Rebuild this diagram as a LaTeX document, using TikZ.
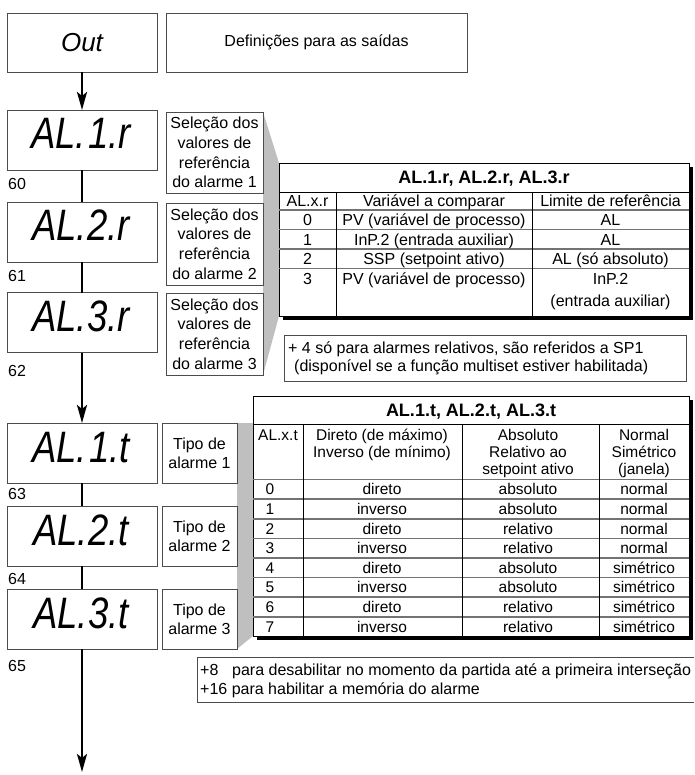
\documentclass[tikz,border=0pt]{standalone}
\usepackage{fontspec}
\setmainfont{Liberation Sans}
\usetikzlibrary{arrows.meta}
\tikzset{
  box/.style={draw=black!70, line width=0.9pt, fill=white, inner sep=0pt, outer sep=0pt},
  disp/.style={box, minimum width=150pt, minimum height=60pt},
  seg/.style={font=\fontsize{44}{44}\selectfont\itshape, anchor=base, inner sep=0pt},
  side/.style={box, align=center, font=\fontsize{16}{19.7}\selectfont},
  tipo/.style={box, align=center, font=\fontsize{16}{19}\selectfont, minimum width=75pt, minimum height=60pt},
  num/.style={font=\fontsize{16}{16}\selectfont, anchor=base west, inner sep=0pt},
  flow/.style={line width=2.6pt},
  flowarr/.style={flow, -{Stealth[length=18pt,width=10pt,inset=4pt]}},
  cell/.style={font=\fontsize{16}{16}\selectfont, anchor=base, inner sep=0pt},
  cellb/.style={font=\fontsize{15.5}{15.5}\selectfont, anchor=base, inner sep=0pt},
  ttl/.style={font=\fontsize{18}{18}\selectfont\bfseries, anchor=base, inner sep=0pt},
  txtl/.style={font=\fontsize{16}{16}\selectfont, anchor=base west, inner sep=0pt},
  tline/.style={line width=0.9pt},
  rline/.style={draw=black!55, line width=1.6pt},
  funnel/.style={fill=black!25},
}
\begin{document}
\begin{tikzpicture}[x=1pt,y=-1pt]
\useasboundingbox (0,0) rectangle (694,775);
% grey funnels
\fill[funnel] (263,112) -- (279,163) -- (279,316) -- (263,375) -- cycle;
\fill[funnel] (237,423) -- (253,423) -- (253,636) -- (237,649) -- cycle;

% top boxes
\node[box, minimum width=150pt, minimum height=59pt] (out) at (82,42.5) {\fontsize{26}{26}\selectfont\itshape Out};
\node[box, minimum width=301pt, minimum height=59pt, font=\fontsize{16}{16}\selectfont] (defs) at (316.5,42.5) {Definições para as saídas};

% display boxes
\node[disp] (al1r) at (82,140) {};
\node[disp] (al2r) at (82,232) {};
\node[disp] (al3r) at (82,322.5) {};
\node[disp] (al1t) at (82,453) {};
\node[disp] (al2t) at (82,536) {};
\node[disp] (al3t) at (82,619) {};
\node[seg] (al1rtxt) at (81,149) {\scalebox{0.83}[1]{AL.\hspace{3pt}1.r}};
\node[seg] (al2rtxt) at (81,241) {\scalebox{0.83}[1]{AL.2.r}};
\node[seg] (al3rtxt) at (81,331.5) {\scalebox{0.83}[1]{AL.3.r}};
\node[seg] (al1ttxt) at (81,462) {\scalebox{0.83}[1]{AL.\hspace{3pt}1.t}};
\node[seg] (al2ttxt) at (81,545) {\scalebox{0.83}[1]{AL.2.t}};
\node[seg] (al3ttxt) at (81,628) {\scalebox{0.83}[1]{AL.3.t}};

% numbers
\node[num] (n60) at (8,190) {60};
\node[num] (n61) at (8,281) {61};
\node[num] (n62) at (8,376) {62};
\node[num] (n63) at (8,499) {63};
\node[num] (n64) at (8,584) {64};
\node[num] (n65) at (8,671) {65};

% side boxes
\node[side, minimum width=97pt, minimum height=81pt] (s1) at (214.5,152.5) {Seleção dos\\valores de\\referência\\do alarme 1};
\node[side, minimum width=97pt, minimum height=82pt] (s2) at (214.5,244) {Seleção dos\\valores de\\referência\\do alarme 2};
\node[side, minimum width=97pt, minimum height=82pt] (s3) at (214.5,334) {Seleção dos\\valores de\\referência\\do alarme 3};
\node[tipo] (t1) at (199.5,453) {Tipo de\\alarme 1};
\node[tipo] (t2) at (199.5,536) {Tipo de\\alarme 2};
\node[tipo] (t3) at (199.5,619) {Tipo de\\alarme 3};

% flow connectors
\draw[flowarr] (out.south) -- (al1r.north);
\draw[flow] (al1r.south) -- (al2r.north);
\draw[flow] (al2r.south) -- (al3r.north);
\draw[flowarr] (al3r.south) -- (al1t.north);
\draw[flow] (al1t.south) -- (al2t.north);
\draw[flow] (al2t.south) -- (al3t.north);
\coordinate (flowend) at (82,772);
\draw[flowarr] (al3t.south) -- (flowend);

% table 1
\fill[black] (283,167) rectangle (693,320);
\draw[tline, fill=white] (279,163) rectangle (689,316);
\draw[tline] (279,192) -- (689,192);
\draw[rline] (279,210) -- (689,210);
\draw[rline] (279,229.5) -- (689,229.5);
\draw[rline] (279,249) -- (689,249);
\draw[rline] (279,268.5) -- (689,268.5);
\draw[tline] (336,192) -- (336,316);
\draw[tline] (532,192) -- (532,316);
\node[ttl] (ta) at (484,183.5) {AL.1.r, AL.2.r, AL.3.r};
\node[cell] (ta00) at (307.5,207) {AL.x.r};
\node[cell] (ta01) at (434,207) {Variável a comparar};
\node[cell] (ta02) at (610.5,207) {Limite de referência};
\node[cell] (ta10) at (307.5,226) {0};
\node[cell] (ta11) at (434,226) {PV (variável de processo)};
\node[cell] (ta12) at (610.5,226) {AL};
\node[cell] (ta20) at (307.5,245.5) {1};
\node[cell] (ta21) at (434,245.5) {InP.2 (entrada auxiliar)};
\node[cell] (ta22) at (610.5,245.5) {AL};
\node[cell] (ta30) at (307.5,265) {2};
\node[cell] (ta31) at (434,265) {SSP (setpoint ativo)};
\node[cell] (ta32) at (610.5,265) {AL (só absoluto)};
\node[cell] (ta40) at (307.5,284) {3};
\node[cell] (ta41) at (434,284) {PV (variável de processo)};
\node[cell] (ta42) at (610.5,284) {InP.2};
\node[cell] (ta43) at (610.5,306) {(entrada auxiliar)};

% note 1
\node[box, minimum width=402pt, minimum height=46pt] (note1) at (485,358) {};
\node[txtl] (note1a) at (288,353.5) {+ 4 só para alarmes relativos, são referidos a SP1};
\node[txtl] (note1b) at (294,371) {(disponível se a função multiset estiver habilitada)};

% table 2
\fill[black] (257,400) rectangle (693,640);
\draw[tline, fill=white] (253,396) rectangle (689,636);
\draw[tline] (253,424) -- (689,424);
\draw[rline] (253,479.5) -- (689,479.5);
\foreach \yy in {499.1,518.7,538.3,557.9,577.5,597.1,616.7}
  \draw[rline] (253,\yy) -- (689,\yy);
\draw[tline] (303,424) -- (303,636);
\draw[tline] (462,424) -- (462,636);
\draw[tline] (599,424) -- (599,636);
\node[ttl] (tb) at (471,416.5) {AL.1.t, AL.2.t, AL.3.t};
\node[cellb] (tbh0) at (278,440) {AL.x.t};
\node[cellb] (tbh1a) at (382,440) {Direto (de máximo)};
\node[cellb] (tbh1b) at (382,457) {Inverso (de mínimo)};
\node[cellb] (tbh2a) at (528,440) {Absoluto};
\node[cellb] (tbh2b) at (528,457) {Relativo ao};
\node[cellb] (tbh2c) at (528,474) {setpoint ativo};
\node[cellb] (tbh3a) at (644,440) {Normal};
\node[cellb] (tbh3b) at (644,457) {Simétrico};
\node[cellb] (tbh3c) at (644,474) {(janela)};
\foreach \k/\da/\ab/\nm in {0/direto/absoluto/normal,1/inverso/absoluto/normal,2/direto/relativo/normal,3/inverso/relativo/normal,4/direto/absoluto/simétrico,5/inverso/absoluto/simétrico,6/direto/relativo/simétrico,7/inverso/relativo/simétrico}{
  \pgfmathsetmacro{\yb}{494.8+19.6*\k}
  \node[cellb] (tbr\k a) at (270,\yb) {\k};
  \node[cellb] (tbr\k b) at (382,\yb) {\da};
  \node[cellb] (tbr\k c) at (528,\yb) {\ab};
  \node[cellb] (tbr\k d) at (644,\yb) {\nm};
}

% note 2
\draw[draw=black!70, line width=0.9pt] (694,657) -- (197,657) -- (197,702) -- (694,702);
\node[txtl] (note2a) at (200,675.7) {+8};
\node[txtl] (note2b) at (232,675.7) {para desabilitar no momento da partida até a primeira interseção};
\node[txtl] (note2c) at (200,694.7) {+16 para habilitar a memória do alarme};
\end{tikzpicture}
\end{document}
